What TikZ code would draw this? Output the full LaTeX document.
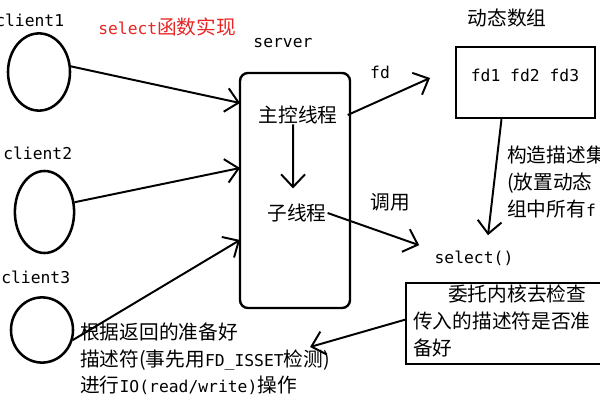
\documentclass[tikz,border=0pt]{standalone}
\usepackage{fontspec}
\setmainfont{DejaVu Sans Mono}[Scale=0.83]
\newfontfamily\cjk{Noto Sans CJK SC}
\usetikzlibrary{shapes.geometric,arrows.meta,positioning}
\definecolor{titlered}{RGB}{232,36,36}

\begin{document}
\begin{tikzpicture}[x=0.025cm, y=-0.025cm,
    every node/.style={font=\fontsize{14}{19}\selectfont, inner sep=0pt},
    client/.style={draw, ellipse, line width=1.8pt},
    box/.style={draw, line width=1.7pt},
    link/.style={line width=1.4pt, -{Straight Barb[length=9pt,width=17pt]}}]
  \useasboundingbox (0,0) rectangle (600,400);

  \node (title) [anchor=west, text=titlered] at (98,27) {select{\cjk 函数实现}};

  \node (c1label) [anchor=west] at (-5,20) {client1};
  \node (c2label) [anchor=west] at (3,153) {client2};
  \node (c3label) [anchor=west] at (1,277) {client3};
  \node (c1) [client, minimum width=1.55cm, minimum height=1.93cm] at (39,72) {};
  \node (c2) [client, minimum width=1.48cm, minimum height=2.05cm] at (44.5,212) {};
  \node (c3) [client, minimum width=1.55cm, minimum height=1.63cm] at (42,330) {};

  \node (serverlabel) at (283,43) {server};
  \node (server) [box, rounded corners=0.2cm, minimum width=2.75cm, minimum height=5.875cm] at (295,190.5) {};
  \node (main) at (298,115) {\cjk 主控线程};
  \node (sub) at (297,213) {\cjk 子线程};
  \coordinate (in1) at (240,103);
  \coordinate (in2) at (240,168);
  \coordinate (in3) at (240,240);

  \node (arraylabel) at (507,18) {\cjk 动态数组};
  \node (array) [box, minimum width=3.475cm, minimum height=1.775cm] at (525.5,82.5) {};
  \node (fds) at (525,75) {fd1 fd2  fd3};
  \node (fdlabel) at (380,72) {fd};
  \coordinate (fdtip) at (430,78);

  \node (build) [anchor=west, align=left] at (507,182) {\cjk 构造描述集\\\cjk (放置动态\\{\cjk 组中所有}f};
  \node (calllabel) at (390,202) {\cjk 调用};
  \node (select) at (474,258) {select()};

  \node (kernel) [box, anchor=north west, minimum width=5.4cm, minimum height=2.025cm] at (405,282) {};
  \node (kerneltext) [anchor=north west, align=left] at (413,285) {\hspace*{0.875cm}\cjk 委托内核去检查\\\cjk 传入的描述符是否准\\\cjk 备好};

  \node (ioops) [anchor=west, align=left] at (80,359) {{\cjk 根据返回的准备好}\\{\cjk 描述符(事先用}FD\_ISSET{\cjk 检测)}\\{\cjk 进行}IO(read/write){\cjk 操作}};

  \draw [link] (c1.10) -- (in1);
  \draw [link] (c2.18) -- (in2);
  \draw [link] (c3.-18) -- (in3);
  \draw [link] ([xshift=-0.12cm]main.south) -- ([xshift=-0.1cm,yshift=0.38cm]sub.north);
  \draw [link] ([xshift=0.25cm]main.east) -- (fdtip);
  \draw [link] ([xshift=-0.6cm]array.south) -- ([xshift=0.35cm,yshift=0.38cm]select.north);
  \draw [link] ([xshift=0.02cm]sub.east) -- ([xshift=-0.38cm,yshift=0.32cm]select.west);
  \draw [link] ([yshift=0.1cm]kernel.west) -- ([xshift=-0.5cm,yshift=0.3cm]ioops.east);
\end{tikzpicture}
\end{document}
